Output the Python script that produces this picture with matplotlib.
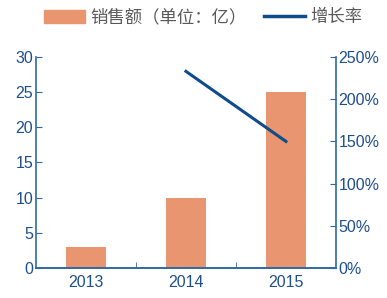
import matplotlib
matplotlib.use("Agg")
import matplotlib.pyplot as plt
from matplotlib.patches import Patch
from matplotlib.lines import Line2D

plt.rcParams['font.family'] = ['Liberation Sans', 'Noto Sans CJK SC', 'DejaVu Sans']

years = ['2013', '2014', '2015']
sales = [3, 10, 25]
growth_years = ['2014', '2015']
growth = [233, 150]

bar_color = '#E9956F'
line_color = '#0E4C8C'
axis_color = '#2F6AA3'
tick_text = '#1F4E8C'

fig = plt.figure(figsize=(3.87, 2.98), dpi=100)
ax = fig.add_axes([0.093, 0.1007, 0.775, 0.708])
x = list(range(len(years)))
ax.bar(x, sales, width=0.4, color=bar_color, zorder=2)
ax.set_xlim(-0.5, 2.5)
ax.set_ylim(0, 30)
ax.set_yticks(range(0, 31, 5))
ax.set_xticks(x)
ax.set_xticklabels(years)
ax.set_xticks([i + 0.5 for i in x[:-1]], minor=True)

ax2 = ax.twinx()
gx = [years.index(y) for y in growth_years]
ax2.plot(gx, growth, color=line_color, linewidth=2.2, zorder=3)
ax2.set_ylim(0, 250)
ax2.set_yticks(range(0, 251, 50))
ax2.set_yticklabels([f'{v}%' for v in range(0, 251, 50)])

for a in (ax, ax2):
    a.spines['top'].set_visible(False)
    for s in ('left', 'right', 'bottom'):
        a.spines[s].set_color(axis_color)
        a.spines[s].set_linewidth(1.2)
    a.tick_params(axis='y', direction='in', length=4, color=axis_color, labelsize=11.5, labelcolor=tick_text, pad=2)
    a.tick_params(axis='x', which='major', length=0, labelsize=11.5, labelcolor=tick_text, pad=5)
ax.tick_params(axis='x', which='minor', direction='in', length=4, color=axis_color)
ax.spines['right'].set_visible(False)
ax2.spines['left'].set_visible(False)

handles = [Patch(color=bar_color), Line2D([0], [0], color=line_color, linewidth=2.5)]
labels = ['销售额（单位：亿）', '增长率']
fig.legend(handles, labels, loc='upper center', bbox_to_anchor=(0.525, 1.025), ncol=2,
           frameon=False, prop={'family': ['Noto Sans CJK SC'], 'size': 12.5},
           labelcolor='#595959', handlelength=2.4,
           handleheight=0.8, columnspacing=0.95, handletextpad=0.3)

fig.savefig('out.png', dpi=100)
